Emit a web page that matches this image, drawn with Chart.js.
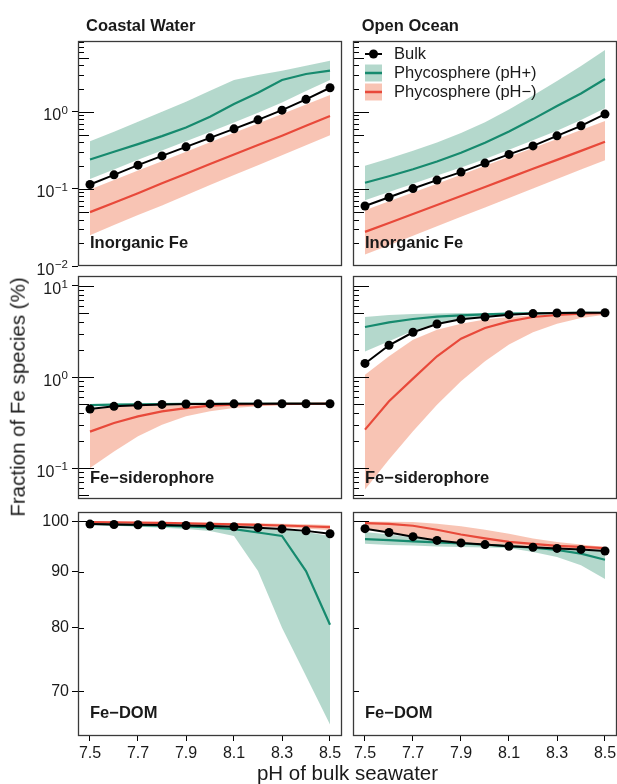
<!DOCTYPE html>
<html><head><meta charset="utf-8">
<script src="https://cdn.jsdelivr.net/npm/chart.js@4.4.1/dist/chart.umd.min.js"></script>
<style>
html,body{margin:0;padding:0;background:#fff;overflow:hidden;width:617px;height:784px;}
#wrap{position:relative;width:617px;height:784px;overflow:hidden;}
canvas{position:absolute;}
.t{position:absolute;font-family:"Liberation Sans",Arial,sans-serif;color:#1a1a1a;white-space:nowrap;line-height:1;}
</style></head><body><div id="wrap"></div>
<script>
// ---------------- DATA ----------------
const ph = [7.5, 7.6, 7.7, 7.8, 7.9, 8.0, 8.1, 8.2, 8.3, 8.4, 8.5];
const xTickValues = [7.5, 7.7, 7.9, 8.1, 8.3, 8.5];
const xTickLabels = ['7.5', '7.7', '7.9', '8.1', '8.3', '8.5'];
const topTickValues = [0.01, 0.1, 1];
const topTickExponents = ['−2', '−1', '0'];
const midTickValues = [0.1, 1, 10];
const midTickExponents = ['−1', '0', '1'];
const botTickValues = [70, 80, 90, 100];
const botTickLabels = ['70', '80', '90', '100'];
const columnTitles = ['Coastal Water', 'Open Ocean'];
const rowLabels = ['Inorganic Fe', 'Fe−siderophore', 'Fe−DOM'];
const legendLabels = ['Bulk', 'Phycosphere (pH+)', 'Phycosphere (pH−)'];
const xTitle = 'pH of bulk seawater';
const yTitle = 'Fraction of Fe species (%)';

// Coastal Water – Inorganic Fe
const cwInorgBulk = [0.114, 0.152, 0.203, 0.268, 0.351, 0.459, 0.601, 0.787, 1.05, 1.45, 2.05];
const cwInorgPlus = [0.241, 0.303, 0.381, 0.483, 0.627, 0.861, 1.26, 1.77, 2.58, 3.09, 3.41];
const cwInorgPlusHi = [0.416, 0.55, 0.74, 1.0, 1.35, 1.87, 2.58, 3.0, 3.41, 3.96, 4.6];
const cwInorgPlusLo = [0.134, 0.179, 0.238, 0.315, 0.416, 0.545, 0.728, 0.97, 1.32, 1.86, 2.58];
const cwInorgMinus = [0.050, 0.066, 0.088, 0.118, 0.157, 0.21, 0.28, 0.37, 0.49, 0.66, 0.88];
const cwInorgMinusHi = [0.098, 0.130, 0.173, 0.229, 0.303, 0.402, 0.533, 0.707, 0.938, 1.24, 1.65];
const cwInorgMinusLo = [0.025, 0.034, 0.046, 0.061, 0.083, 0.112, 0.151, 0.203, 0.274, 0.369, 0.498];

// Open Ocean – Inorganic Fe
const ooInorgBulk = [0.060, 0.078, 0.101, 0.130, 0.165, 0.216, 0.280, 0.361, 0.488, 0.658, 0.933];
const ooInorgPlus = [0.120, 0.146, 0.180, 0.227, 0.294, 0.396, 0.556, 0.804, 1.19, 1.73, 2.66];
const ooInorgPlusHi = [0.199, 0.248, 0.312, 0.401, 0.529, 0.734, 1.07, 1.63, 2.51, 3.93, 6.32];
const ooInorgPlusLo = [0.071, 0.091, 0.117, 0.149, 0.190, 0.245, 0.321, 0.426, 0.566, 0.780, 1.11];
const ooInorgMinus = [0.0277, 0.0362, 0.0473, 0.0619, 0.081, 0.106, 0.139, 0.182, 0.238, 0.311, 0.408];
const ooInorgMinusHi = [0.053, 0.069, 0.090, 0.117, 0.153, 0.200, 0.261, 0.340, 0.445, 0.580, 0.757];
const ooInorgMinusLo = [0.0141, 0.0186, 0.0247, 0.0327, 0.0434, 0.0575, 0.0764, 0.101, 0.134, 0.178, 0.236];

// Coastal Water – Fe-siderophore
const cwSidBulk = [0.445, 0.476, 0.488, 0.500, 0.505, 0.506, 0.507, 0.508, 0.508, 0.508, 0.509];
const cwSidPlus = [0.492, 0.497, 0.501, 0.504, 0.506, 0.507, 0.508, 0.508, 0.509, 0.509, 0.509];
const cwSidPlusHi = [0.505, 0.507, 0.508, 0.509, 0.509, 0.509, 0.509, 0.509, 0.51, 0.51, 0.51];
const cwSidPlusLo = [0.478, 0.487, 0.494, 0.499, 0.503, 0.505, 0.507, 0.508, 0.508, 0.509, 0.509];
const cwSidMinus = [0.251, 0.312, 0.370, 0.420, 0.456, 0.484, 0.496, 0.503, 0.506, 0.508, 0.509];
const cwSidMinusHi = [0.43, 0.47, 0.49, 0.50, 0.505, 0.507, 0.508, 0.509, 0.509, 0.509, 0.509];
const cwSidMinusLo = [0.100, 0.152, 0.223, 0.299, 0.370, 0.420, 0.456, 0.476, 0.488, 0.496, 0.505];

// Open Ocean – Fe-siderophore
const ooSidBulk = [1.41, 2.23, 3.10, 3.82, 4.30, 4.56, 4.84, 4.97, 5.05, 5.07, 5.08];
const ooSidPlus = [3.54, 3.99, 4.34, 4.60, 4.76, 4.88, 4.97, 5.0, 5.05, 5.07, 5.08];
const ooSidPlusHi = [4.56, 4.80, 4.92, 5.0, 5.05, 5.06, 5.07, 5.08, 5.08, 5.08, 5.09];
const ooSidPlusLo = [1.91, 2.47, 3.23, 3.90, 4.35, 4.60, 4.80, 4.92, 5.0, 5.04, 5.07];
const ooSidMinus = [0.264, 0.541, 0.959, 1.69, 2.64, 3.45, 4.09, 4.56, 4.80, 4.97, 5.05];
const ooSidMinusHi = [1.06, 1.69, 2.57, 3.31, 3.85, 4.27, 4.56, 4.76, 4.92, 5.0, 5.07];
const ooSidMinusLo = [0.058, 0.124, 0.253, 0.497, 0.896, 1.49, 2.27, 3.10, 3.85, 4.45, 4.84];

// Coastal Water – Fe-DOM
const cwDomBulk = [99.44, 99.37, 99.31, 99.23, 99.14, 99.03, 98.89, 98.71, 98.44, 98.04, 97.44];
const cwDomPlus = [99.5, 99.37, 99.2, 99.1, 98.96, 98.75, 98.4, 97.7, 97.0, 90.1, 80.5];
const cwDomPlusHi = [99.6, 99.5, 99.45, 99.4, 99.3, 99.2, 99.0, 98.7, 98.3, 97.8, 97.0];
const cwDomPlusLo = [99.3, 99.1, 98.9, 98.7, 98.4, 98.0, 97.0, 90.1, 80.0, 72.3, 65.3];
const cwDomMinus = [99.85, 99.8, 99.75, 99.7, 99.6, 99.5, 99.4, 99.3, 99.15, 99.0, 98.8];
const cwDomMinusHi = [99.95, 99.92, 99.9, 99.85, 99.8, 99.75, 99.68, 99.6, 99.5, 99.4, 99.25];
const cwDomMinusLo = [99.65, 99.6, 99.55, 99.45, 99.35, 99.25, 99.1, 98.95, 98.75, 98.5, 98.2];

// Open Ocean – Fe-DOM
const ooDomBulk = [98.5, 97.7, 96.85, 96.1, 95.6, 95.26, 94.92, 94.72, 94.5, 94.3, 93.99];
const ooDomPlus = [96.37, 96.17, 95.9, 95.7, 95.5, 95.23, 94.97, 94.64, 94.18, 93.46, 92.28];
const ooDomPlusHi = [97.8, 97.3, 96.7, 96.1, 95.6, 95.3, 95.0, 94.8, 94.6, 94.4, 94.1];
const ooDomPlusLo = [95.43, 95.2, 95.1, 94.9, 94.77, 94.7, 94.57, 93.8, 92.8, 91.2, 88.6];
const ooDomMinus = [99.65, 99.5, 99.1, 98.27, 97.3, 96.5, 95.8, 95.4, 95.0, 94.8, 94.57];
const ooDomMinusHi = [100.0, 99.95, 99.86, 99.5, 99.0, 98.27, 97.45, 96.5, 95.8, 95.3, 94.8];
const ooDomMinusLo = [98.5, 97.7, 96.9, 96.2, 95.6, 95.3, 95.0, 94.8, 94.6, 94.4, 94.2];

// ---------------- STYLE / LAYOUT ----------------
const FONT = "'Liberation Sans', Arial, Helvetica, sans-serif";
const GREEN = '#168a6e', GREEN_FILL = 'rgba(8,125,85,0.30)';
const RED = '#e8493a', RED_FILL = 'rgba(235,86,41,0.35)';
const TXT = '#1a1a1a';
const P = 14;
const cols = [{ left: 78, w: 264, showY: true }, { left: 353, w: 264, showY: false }];
const rows = [
  { top: 41, h: 225, min: 0.01, max: 8.28, tv: topTickValues, exp: topTickExponents, showX: false },
  { top: 276, h: 223, min: 0.0457, max: 12.87, tv: midTickValues, exp: midTickExponents, showX: false },
  { top: 512, h: 224, min: 63.75, max: 102.0, tv: botTickValues, tl: botTickLabels, showX: true }
];
const panels = [
  { r: 0, c: 0, s: [cwInorgBulk, cwInorgPlus, cwInorgPlusHi, cwInorgPlusLo, cwInorgMinus, cwInorgMinusHi, cwInorgMinusLo] },
  { r: 0, c: 1, s: [ooInorgBulk, ooInorgPlus, ooInorgPlusHi, ooInorgPlusLo, ooInorgMinus, ooInorgMinusHi, ooInorgMinusLo], legend: true },
  { r: 1, c: 0, s: [cwSidBulk, cwSidPlus, cwSidPlusHi, cwSidPlusLo, cwSidMinus, cwSidMinusHi, cwSidMinusLo] },
  { r: 1, c: 1, s: [ooSidBulk, ooSidPlus, ooSidPlusHi, ooSidPlusLo, ooSidMinus, ooSidMinusHi, ooSidMinusLo] },
  { r: 2, c: 0, s: [cwDomBulk, cwDomPlus, cwDomPlusHi, cwDomPlusLo, cwDomMinus, cwDomMinusHi, cwDomMinusLo] },
  { r: 2, c: 1, s: [ooDomBulk, ooDomPlus, ooDomPlusHi, ooDomPlusLo, ooDomMinus, ooDomMinusHi, ooDomMinusLo] }
];

const pts = arr => ph.map((x, i) => ({ x: x, y: arr[i] }));

const framePlugin = {
  id: 'frame',
  afterDraw(chart, args, opts) {
    const ca = chart.chartArea, ctx = chart.ctx, y = chart.scales.y;
    ctx.save();
    // inner log ticks (annotation-logticks style)
    ctx.strokeStyle = '#000'; ctx.lineWidth = 1;
    const lo = Math.floor(Math.log10(y.min)), hi = Math.ceil(Math.log10(y.max));
    for (let e = lo; e <= hi; e++) {
      for (let k = 1; k < 10; k++) {
        const v = k * Math.pow(10, e);
        if (v < y.min * 1.0001 || v > y.max * 0.9999) continue;
        const len = k === 1 ? 16 : (k === 5 ? 11 : 6);
        const py = Math.round(y.getPixelForValue(v)) + 0.5;
        ctx.beginPath(); ctx.moveTo(ca.left, py); ctx.lineTo(ca.left + len, py); ctx.stroke();
      }
    }
    ctx.strokeStyle = '#3a3a3a'; ctx.lineWidth = 1.3;
    ctx.strokeRect(ca.left + 0.5, ca.top + 0.5, ca.right - ca.left - 1, ca.bottom - ca.top - 1);
    // powers-of-ten tick labels: "10" with a raised exponent
    if (opts.exp && opts.showY) {
      ctx.fillStyle = TXT; ctx.textBaseline = 'alphabetic'; ctx.textAlign = 'right';
      opts.tv.forEach((v, i) => {
        const py = y.getPixelForValue(v);
        const xr = ca.left - 10;
        ctx.font = '11.5px ' + FONT;
        const ew = ctx.measureText(opts.exp[i]).width;
        ctx.fillText(opts.exp[i], xr, py + 2);
        ctx.font = '16px ' + FONT;
        ctx.fillText('10', xr - ew - 0.5, py + 8.5);
      });
    }
    ctx.restore();
  }
};

const legendPlugin = {
  id: 'phLegend',
  afterDraw(chart, args, opts) {
    if (!opts.show) return;
    const ca = chart.chartArea, ctx = chart.ctx;
    const x0 = ca.left + 12, sw = 17, tx = ca.left + 41;
    const ys = [ca.top + 13, ca.top + 32, ca.top + 51];
    ctx.save();
    ctx.strokeStyle = '#000'; ctx.lineWidth = 2;
    ctx.beginPath(); ctx.moveTo(x0, ys[0]); ctx.lineTo(x0 + sw, ys[0]); ctx.stroke();
    ctx.fillStyle = '#000'; ctx.beginPath(); ctx.arc(x0 + sw / 2, ys[0], 4.5, 0, Math.PI * 2); ctx.fill();
    ctx.fillStyle = GREEN_FILL; ctx.fillRect(x0, ys[1] - 8.5, sw, 17);
    ctx.strokeStyle = GREEN; ctx.lineWidth = 2.5;
    ctx.beginPath(); ctx.moveTo(x0, ys[1]); ctx.lineTo(x0 + sw, ys[1]); ctx.stroke();
    ctx.fillStyle = RED_FILL; ctx.fillRect(x0, ys[2] - 8.5, sw, 17);
    ctx.strokeStyle = RED; ctx.lineWidth = 2.5;
    ctx.beginPath(); ctx.moveTo(x0, ys[2]); ctx.lineTo(x0 + sw, ys[2]); ctx.stroke();
    ctx.fillStyle = TXT; ctx.font = '16.5px ' + FONT; ctx.textBaseline = 'middle'; ctx.textAlign = 'left';
    legendLabels.forEach((t, i) => ctx.fillText(t, tx, ys[i] + 0.5));
    ctx.restore();
  }
};

const wrap = document.getElementById('wrap');

panels.forEach(p => {
  const row = rows[p.r], col = cols[p.c];
  const axisW = col.showY ? 56 : 0, axisH = row.showX ? 30 : 0;
  const W = col.w + axisW + 2 * P, H = row.h + axisH + 2 * P;
  const cv = document.createElement('canvas');
  cv.width = W; cv.height = H;
  cv.style.width = W + 'px'; cv.style.height = H + 'px';
  cv.style.left = (col.left - axisW - P) + 'px';
  cv.style.top = (row.top - P) + 'px';
  wrap.appendChild(cv);
  const [bulk, plus, plusHi, plusLo, minus, minusHi, minusLo] = p.s;
  const clear = 'rgba(0,0,0,0)';
  new Chart(cv, {
    type: 'line',
    data: {
      datasets: [
        { label: legendLabels[0], data: pts(bulk), borderColor: '#000', borderWidth: 2, pointRadius: 4.5, pointBackgroundColor: '#000', pointBorderWidth: 0, order: 0, fill: false },
        { label: legendLabels[2], data: pts(minus), borderColor: RED, borderWidth: 2.2, pointRadius: 0, order: 1, fill: false },
        { label: legendLabels[1], data: pts(plus), borderColor: GREEN, borderWidth: 2.2, pointRadius: 0, order: 2, fill: false },
        { data: pts(minusHi), borderColor: clear, borderWidth: 0, pointRadius: 0, backgroundColor: RED_FILL, fill: '+1', order: 3 },
        { data: pts(minusLo), borderColor: clear, borderWidth: 0, pointRadius: 0, fill: false, order: 3 },
        { data: pts(plusHi), borderColor: clear, borderWidth: 0, pointRadius: 0, backgroundColor: GREEN_FILL, fill: '+1', order: 4 },
        { data: pts(plusLo), borderColor: clear, borderWidth: 0, pointRadius: 0, fill: false, order: 4 }
      ]
    },
    options: {
      responsive: false, animation: false, devicePixelRatio: 1, events: [],
      layout: { padding: P },
      plugins: {
        legend: { display: false }, tooltip: { enabled: false },
        phLegend: { show: !!p.legend },
        frame: { exp: row.exp, tv: row.tv, showY: col.showY }
      },
      scales: {
        x: {
          type: 'linear', min: 7.45, max: 8.55, display: row.showX,
          afterBuildTicks: s => { s.ticks = xTickValues.map(v => ({ value: v })); },
          afterFit: s => { s.height = axisH; },
          grid: { drawOnChartArea: false, drawTicks: true, tickLength: 5, color: '#000', lineWidth: 1 },
          border: { display: false },
          ticks: { autoSkip: false, maxRotation: 0, minRotation: 0, padding: 3, color: TXT,
            font: { family: FONT, size: 16 }, callback: (v, i) => xTickLabels[i] }
        },
        y: {
          type: 'logarithmic', min: row.min, max: row.max, bounds: 'data', display: col.showY,
          afterBuildTicks: s => { s.ticks = row.tv.map(v => ({ value: v })); },
          afterFit: s => { s.width = axisW; },
          grid: { drawOnChartArea: false, drawTicks: true, tickLength: 6, color: '#000', lineWidth: 1 },
          border: { display: false },
          ticks: { display: !row.exp, autoSkip: false, padding: 3, color: TXT,
            font: { family: FONT, size: 16 },
            callback: (v, i) => row.tl ? row.tl[i] : '10^' + row.exp[i] }
        }
      }
    },
    plugins: [framePlugin, legendPlugin]
  });
});

// ---------------- TEXT ----------------
function place(text, x, baseline, size, weight, extra) {
  const d = document.createElement('div');
  d.className = 't';
  d.textContent = text;
  d.style.fontSize = size + 'px';
  d.style.fontWeight = weight;
  d.style.left = x + 'px';
  d.style.top = (baseline - 0.8465 * size) + 'px';
  if (extra) Object.assign(d.style, extra);
  wrap.appendChild(d);
  return d;
}
place(columnTitles[0], 86, 30.7, 16.5, 'bold');
place(columnTitles[1], 361.7, 30.7, 16.5, 'bold');
const labelBase = [248.3, 483.3, 718.3];
rowLabels.forEach((t, i) => {
  place(t, 90, labelBase[i], 16.5, 'bold');
  place(t, 365, labelBase[i], 16.5, 'bold');
});
place(xTitle, 347.5, 780, 20.5, 'normal', { transform: 'translateX(-50%)' });
const yt = document.createElement('div');
yt.className = 't'; yt.textContent = yTitle;
yt.style.fontSize = '20.5px';
yt.style.left = '18px'; yt.style.top = '397px';
yt.style.transform = 'translate(-50%,-50%) rotate(-90deg)';
wrap.appendChild(yt);
</script>
</body></html>
